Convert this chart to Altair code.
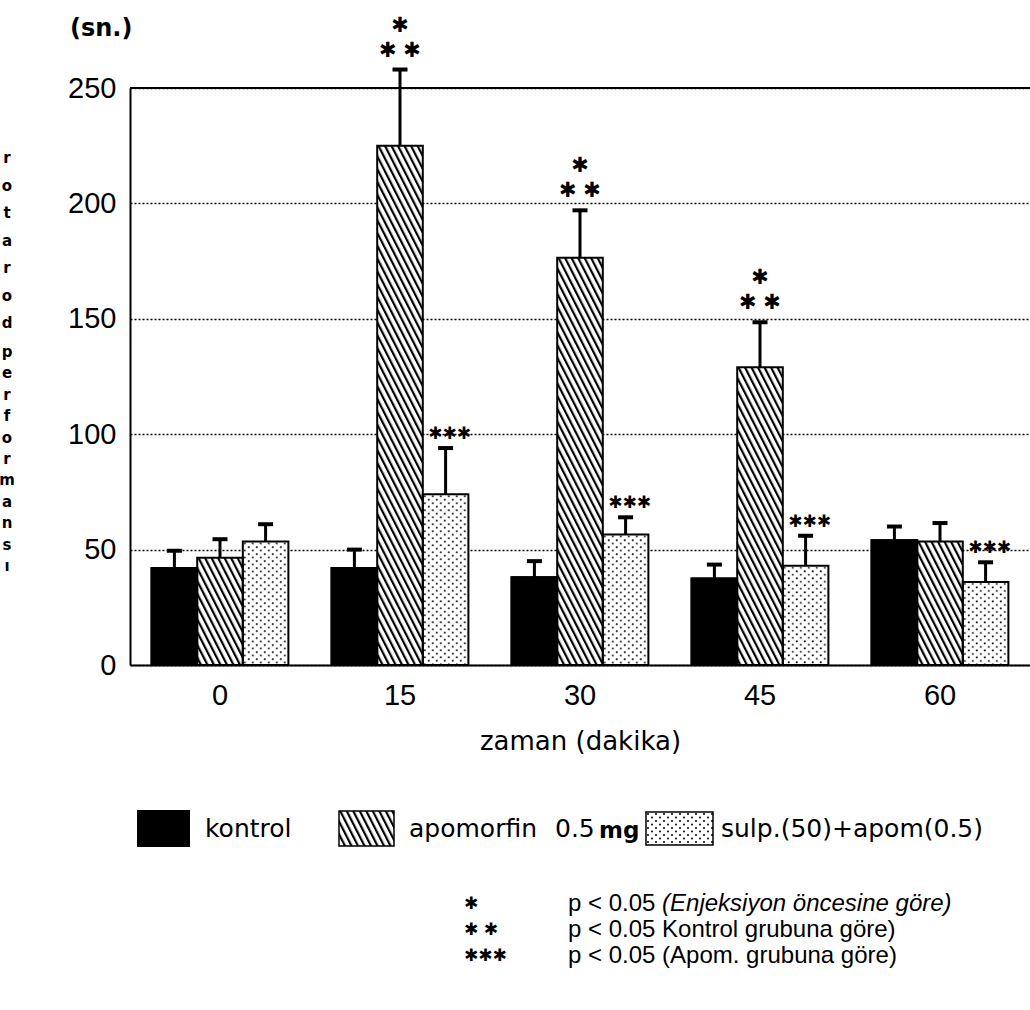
import base64

import altair as alt
import pandas as pd

# ---- data -------------------------------------------------------------
minutes = ["0", "15", "30", "45", "60"]
groups = ["kontrol", "apomorfin", "sulp"]

kontrol_mean = [42, 42, 38, 37.5, 54]
kontrol_sem = [7.5, 8, 7, 6, 6]
apomorfin_mean = [46.5, 225, 176.5, 129, 53.5]
apomorfin_sem = [8, 33, 20.5, 19.5, 8]
sulp_mean = [53.5, 74, 56.5, 43, 36]
sulp_sem = [7.5, 20, 7.5, 13, 8.5]

# significance flags per time point
apom_vs_pre = [False, True, True, True, False]      # *   vs. pre-injection
apom_vs_kontrol = [False, True, True, True, False]  # **  vs. control group
sulp_vs_apom = [False, True, True, True, True]      # *** vs. apomorphine group

y_ticks = [0, 50, 100, 150, 200, 250]

y_title_words = ["rotarod", "performansı"]
legend_labels = ["kontrol", "apomorfin", "0.5", "mg", "sulp.(50)+apom(0.5)"]
star_1, star_2, star_3 = "✱", "✱ ✱", "✱✱✱"
notes = [
    (star_1, "p < 0.05 ", "(Enjeksiyon öncesine göre)"),
    (star_2, "p < 0.05 Kontrol grubuna göre)", ""),
    (star_3, "p < 0.05 (Apom. grubuna göre)", ""),
]

# ---- tables -----------------------------------------------------------
rows = []
for g, means, sems, flags in [
    ("kontrol", kontrol_mean, kontrol_sem, [(False, False, False)] * 5),
    ("apomorfin", apomorfin_mean, apomorfin_sem,
     [(a, b, False) for a, b in zip(apom_vs_pre, apom_vs_kontrol)]),
    ("sulp", sulp_mean, sulp_sem, [(False, False, c) for c in sulp_vs_apom]),
]:
    for m, v, s, (f1, f2, f3) in zip(minutes, means, sems, flags):
        rows.append({"minute": m, "group": g, "mean": v, "sem": s, "top": v + s,
                     "pre": f1, "ctrl": f2, "apom": f3})
df = pd.DataFrame(rows)

pre_df = df[df.pre]
ctrl_df = df[df.ctrl]
apom_df = df[df.apom]

# ---- fill patterns (SVG tiles, drawn at 1:1 inside each bar) ----------
hatch_svg = (
    '<svg xmlns="http://www.w3.org/2000/svg">'
    '<defs><pattern id="p" width="5.8" height="40" patternUnits="userSpaceOnUse" '
    'patternTransform="rotate(-27)">'
    '<rect x="0" y="0" width="2.2" height="40" fill="#000"/></pattern></defs>'
    '<rect width="100%" height="100%" fill="#fff"/>'
    '<rect width="100%" height="100%" fill="url(#p)"/></svg>'
)
dots_svg = (
    '<svg xmlns="http://www.w3.org/2000/svg">'
    '<defs><pattern id="d" width="8" height="7" patternUnits="userSpaceOnUse">'
    '<circle cx="2" cy="2" r="1" fill="#000"/>'
    '<circle cx="6" cy="5.5" r="1" fill="#000"/></pattern></defs>'
    '<rect width="100%" height="100%" fill="#fff"/>'
    '<rect width="100%" height="100%" fill="url(#d)"/></svg>'
)


def svg_uri(svg):
    return "data:image/svg+xml;base64," + base64.b64encode(svg.encode()).decode()


hatch_uri = svg_uri(hatch_svg)
dots_uri = svg_uri(dots_svg)

TEXT_FONT = "DejaVu Sans"
NUM_FONT = "Liberation Sans Narrow, Liberation Sans"
NOTE_FONT = "Liberation Sans"

# ---- encodings --------------------------------------------------------
x_enc = alt.X(
    "minute:N",
    sort=minutes,
    scale=alt.Scale(domain=minutes, paddingInner=0.24, paddingOuter=0.12),
    axis=alt.Axis(
        title="zaman (dakika)",
        labelAngle=0,
        labelFont=NUM_FONT,
        labelFontSize=29,
        labelPadding=16,
        labelColor="black",
        ticks=False,
        domainColor="black",
        domainWidth=2,
        titleFont=TEXT_FONT,
        titleFontSize=26,
        titleFontWeight="normal",
        titleColor="black",
        titlePadding=18,
    ),
)
xoff_enc = alt.XOffset(
    "group:N", sort=groups, scale=alt.Scale(domain=groups, paddingInner=0, paddingOuter=0)
)
y_scale = alt.Scale(domain=[0, 250], nice=False, zero=True)
y_enc = alt.Y(
    "mean:Q",
    scale=y_scale,
    axis=alt.Axis(
        values=y_ticks,
        title=None,
        labelFont=NUM_FONT,
        labelFontSize=29,
        labelPadding=14,
        labelColor="black",
        ticks=False,
        domainColor="black",
        domainWidth=2,
        grid=True,
        gridColor="black",
        gridDash=[2, 2],
        gridWidth=1.3,
    ),
)

base = alt.Chart(df)

kontrol_bars = base.transform_filter(alt.datum.group == "kontrol").mark_bar(
    color="black", stroke="black", strokeWidth=2
).encode(x=x_enc, xOffset=xoff_enc, y=y_enc)

apom_fill = base.transform_filter(alt.datum.group == "apomorfin").mark_image(
    aspect=False
).encode(x=x_enc, xOffset=xoff_enc, y=y_enc, y2=alt.datum(0), url=alt.value(hatch_uri))

sulp_fill = base.transform_filter(alt.datum.group == "sulp").mark_image(
    aspect=False
).encode(x=x_enc, xOffset=xoff_enc, y=y_enc, y2=alt.datum(0), url=alt.value(dots_uri))

outlines = base.mark_bar(fill="transparent", stroke="black", strokeWidth=2).encode(
    x=x_enc, xOffset=xoff_enc, y=y_enc
)

err_rules = base.mark_rule(color="black", strokeWidth=3).encode(
    x=x_enc, xOffset=xoff_enc, y=alt.Y("mean:Q", scale=y_scale), y2="top:Q"
)
err_caps = base.mark_tick(color="black", thickness=4, size=15, opacity=1).encode(
    x=x_enc, xOffset=xoff_enc, y=alt.Y("top:Q", scale=y_scale)
)


def stars(frame, text, size, dy, dx=0):
    return alt.Chart(frame).mark_text(
        text=text, dy=dy, dx=dx, font="DejaVu Sans", fontSize=size, color="black",
        baseline="middle", align="center"
    ).encode(x=x_enc, xOffset=xoff_enc, y=alt.Y("top:Q", scale=y_scale))


star_layers = [
    stars(pre_df, star_1, 21, -44),
    stars(ctrl_df, star_2, 21, -19),
    stars(apom_df, star_3, 17, -14, 4),
]

# solid frame line along the top of the plot
top_line = alt.Chart(pd.DataFrame({"v": [250]})).mark_rule(
    color="black", strokeWidth=2
).encode(y=alt.Y("v:Q", scale=y_scale))

one = pd.DataFrame({"k": [0]})

unit_label = alt.Chart(one).mark_text(
    text="(sn.)", font=TEXT_FONT, fontSize=24, fontWeight="bold", align="left",
    baseline="middle", color="black"
).encode(x=alt.value(-60), y=alt.value(-59))

# y title: letters stacked one under another
y_title_marks = [
    alt.Chart(one).mark_text(
        text="\n".join(y_title_words[0]), lineBreak="\n", lineHeight=27.5,
        font=TEXT_FONT, fontSize=15, fontWeight="bold", align="center", baseline="middle",
        color="black"
    ).encode(x=alt.value(-123), y=alt.value(70)),
    alt.Chart(one).mark_text(
        text="\n".join(y_title_words[1]), lineBreak="\n", lineHeight=21.4,
        font=TEXT_FONT, fontSize=15, fontWeight="bold", align="center", baseline="middle",
        color="black"
    ).encode(x=alt.value(-123), y=alt.value(264)),
]

# ---- legend -----------------------------------------------------------
LEG_Y0, LEG_Y1 = 723, 758
leg_kontrol = alt.Chart(one).mark_rect(color="black").encode(
    x=alt.value(7), x2=alt.value(60), y=alt.value(LEG_Y0 - 1), y2=alt.value(LEG_Y1 + 1)
)
leg_apom = alt.Chart(one).mark_image(aspect=False).encode(
    x=alt.value(209), x2=alt.value(264), y=alt.value(LEG_Y0), y2=alt.value(LEG_Y1),
    url=alt.value(hatch_uri)
)
leg_sulp = alt.Chart(one).mark_image(aspect=False).encode(
    x=alt.value(516), x2=alt.value(583), y=alt.value(LEG_Y0 + 1), y2=alt.value(LEG_Y1 - 1),
    url=alt.value(dots_uri)
)
leg_boxes = alt.Chart(one).mark_rect(fill="transparent", stroke="black", strokeWidth=1.5).encode(
    x=alt.value(209), x2=alt.value(264), y=alt.value(LEG_Y0), y2=alt.value(LEG_Y1)
) + alt.Chart(one).mark_rect(fill="transparent", stroke="black", strokeWidth=1.5).encode(
    x=alt.value(516), x2=alt.value(583), y=alt.value(LEG_Y0 + 1), y2=alt.value(LEG_Y1 - 1)
)

leg_text_style = dict(font=TEXT_FONT, fontSize=25, align="left", baseline="middle", color="black")
leg_texts = [
    alt.Chart(one).mark_text(text=legend_labels[0], **leg_text_style).encode(
        x=alt.value(75), y=alt.value(741)),
    alt.Chart(one).mark_text(text=legend_labels[1], **leg_text_style).encode(
        x=alt.value(279), y=alt.value(741)),
    alt.Chart(one).mark_text(text=legend_labels[2], **leg_text_style).encode(
        x=alt.value(425), y=alt.value(741)),
    alt.Chart(one).mark_text(text=legend_labels[3], fontWeight="bold",
                             **{**leg_text_style, "fontSize": 23}).encode(
        x=alt.value(469), y=alt.value(743)),
    alt.Chart(one).mark_text(text=legend_labels[4], **leg_text_style).encode(
        x=alt.value(591), y=alt.value(741)),
]

# ---- significance footnotes ------------------------------------------
note_layers = []
NOTE_SIZE = 24
for i, (sym, plain, ital) in enumerate(notes):
    yy = 816 + i * 26
    note_layers.append(alt.Chart(one).mark_text(
        text=sym, font="DejaVu Sans", fontSize=17, align="left",
        baseline="middle", color="black").encode(x=alt.value(334), y=alt.value(yy)))
    note_layers.append(alt.Chart(one).mark_text(
        text=plain, font=NOTE_FONT, fontSize=NOTE_SIZE, align="left", baseline="middle",
        color="black").encode(x=alt.value(438), y=alt.value(yy)))
    if ital:
        note_layers.append(alt.Chart(one).mark_text(
            text=ital, font=NOTE_FONT, fontSize=NOTE_SIZE, fontStyle="italic", align="left",
            baseline="middle", color="black").encode(
            x=alt.value(438 + 3.92 * NOTE_SIZE), y=alt.value(yy)))

chart = alt.layer(
    kontrol_bars, apom_fill, sulp_fill, outlines, err_rules, err_caps, top_line,
    *star_layers, unit_label, *y_title_marks,
    leg_kontrol, leg_apom, leg_sulp, leg_boxes, *leg_texts, *note_layers,
).properties(
    width=900,
    height=577,
    padding={"left": 130, "top": 88, "right": 0, "bottom": 345},
    autosize=alt.AutoSizeParams(type="none"),
    background="white",
).configure_view(stroke=None)

chart.save("out.html", embed_options={"renderer": "svg", "actions": False})
